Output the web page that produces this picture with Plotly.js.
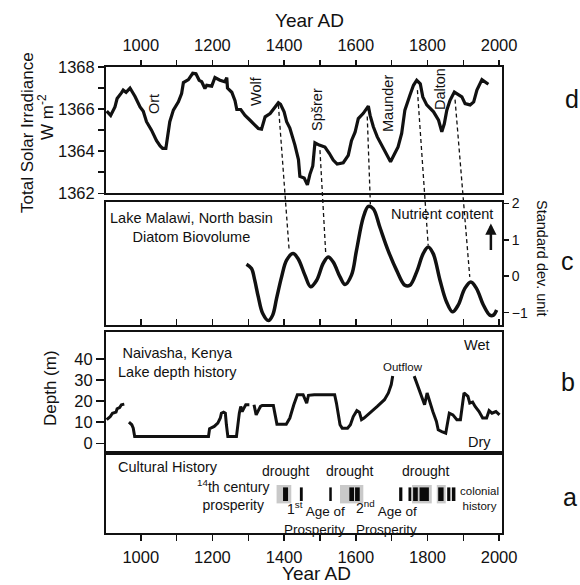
<!DOCTYPE html>
<html><head><meta charset="utf-8">
<script src="https://cdn.plot.ly/plotly-3.0.1.min.js"></script>
<style>html,body{margin:0;padding:0;background:#fff}#chart{width:580px;height:585px}</style>
</head><body><div id="chart"></div>
<script>
// ---- Panel d: Total Solar Irradiance ----
const tsiYear = [905,916,928,934,946,951,959,970,984,998,1007,1016,1030,1044,1054,1061,1070,1077,1081,1091,1105,1114,1119,1133,1145,1154,1163,1170,1179,1184,1198,1207,1221,1235,1240,1242,1254,1263,1268,1279,1291,1305,1319,1328,1337,1342,1347,1361,1375,1384,1390,1400,1407,1416,1430,1440,1444,1456,1465,1472,1480,1486,1498,1514,1526,1537,1548,1565,1579,1588,1598,1607,1621,1635,1640,1649,1660,1672,1686,1697,1709,1718,1728,1737,1751,1761,1770,1780,1787,1798,1817,1831,1840,1847,1854,1863,1875,1887,1896,1905,1919,1929,1938,1952,1961,1970];
const tsiVal = [1365.9,1365.7,1366.1,1366.5,1366.77,1366.9,1366.8,1367.0,1366.6,1366.1,1365.9,1365.4,1365.0,1364.5,1364.25,1364.13,1364.13,1364.85,1365.4,1365.95,1366.35,1366.74,1367.26,1367.4,1367.7,1367.68,1367.37,1367.3,1366.98,1367.13,1367.09,1367.5,1367.37,1367.3,1367.5,1367.0,1366.8,1366.4,1365.98,1365.98,1365.7,1365.47,1365.24,1365.08,1365.05,1365.4,1365.63,1365.79,1366.1,1366.3,1366.23,1365.87,1365.4,1365.1,1364.3,1363.6,1362.8,1362.72,1362.4,1362.9,1363.3,1364.4,1364.29,1364.2,1363.9,1363.58,1363.39,1363.45,1363.8,1364.5,1364.9,1365.55,1365.8,1366.14,1365.7,1365.16,1364.68,1364.29,1363.8,1363.5,1363.9,1364.2,1364.84,1365.95,1366.66,1367.13,1367.37,1367.2,1366.58,1366.2,1365.87,1365.47,1364.92,1365.3,1365.95,1366.42,1366.81,1366.66,1366.58,1366.26,1366.2,1366.34,1366.9,1367.4,1367.29,1367.18];
const minimaNames = ["Ort","Wolf","Spšrer","Maunder","Dalton"];

// ---- Panel c: Lake Malawi diatom biovolume (standard dev. units) ----
const diatomYear = [1295,1309,1318,1328,1340,1356,1368,1379,1393,1407,1425,1439,1458,1474,1491,1509,1523,1537,1556,1570,1588,1602,1621,1635,1649,1667,1690,1714,1737,1751,1770,1788,1802,1816,1835,1853,1870,1886,1904,1921,1937,1956,1974,1984,1993];
const diatomVal = [0.33,0.21,-0.11,-0.57,-1.02,-1.22,-1.07,-0.61,-0.02,0.44,0.62,0.48,0.03,-0.29,-0.11,0.35,0.53,0.39,-0.02,-0.23,0.03,0.71,1.62,1.92,1.85,1.35,0.71,0.16,-0.25,-0.25,0.12,0.62,0.8,0.62,-0.11,-0.70,-0.98,-0.79,-0.34,-0.16,-0.34,-0.79,-1.07,-1.07,-0.93];

// ---- Connectors: TSI maxima (panel d) to diatom maxima (panel c) ----
const linkYearD = [1384,1500,1632,1772,1877];
const linkTsi   = [1366.2,1364.05,1365.65,1366.9,1366.45];
const linkYearC = [1414,1516,1641,1802,1918];
const linkSd    = [0.72,0.65,1.9,0.85,-0.02];

// ---- Panel b: Lake Naivasha depth (m), null = gap ----
const depthYear = [905,915,921,931,934,941,946,954,null,967,975,979,983,1189,1192,1205,1215,1222,1225,1231,1236,1239,1243,1267,1270,1275,1279,1283,1288,1293,1303,null,1316,1322,1329,1334,1339,1370,1375,1380,1406,1416,1427,1437,1453,1463,1468,1484,1541,1546,1556,1562,1577,1585,1593,1603,1610,1616,1623,1639,1660,1680,1691,1699,1703,null,1763,1773,1784,1792,1799,1806,1815,1825,1830,1840,1851,1856,1861,1871,1882,1892,1897,1902,1913,1918,1926,1933,1944,1954,1965,1972,1980,1991,2001];
const depthVal = [11.2,12.7,14.3,14.8,16.4,17,18.3,18.6,null,10,8.8,7.2,3.2,3.2,6.9,8,9.6,12,14.3,14.8,14.3,8.8,3.2,3.2,8.8,14.3,17.5,15.1,16.7,18.3,18.3,null,18.3,13.5,15.9,17.5,18,18,13.5,9.1,9.1,12,18.3,23.1,23.1,19.1,22.8,23.1,23.1,19.1,8.8,7.2,7.2,8.8,12.7,15.5,14.8,11.2,12,14.3,17.5,20.7,23.9,27.9,31.9,null,31.9,27.1,22.3,18.3,23.9,19.9,15.1,10.4,6.4,5.6,4.8,9.6,14.3,13.5,11.2,11.2,18.3,23.9,22.3,19.1,19.6,17.5,15.1,12,12,15.5,14.3,15.1,13.5];

// ---- Panel a: cultural history ----
const droughtStart = [1379,1556,1757,1826];
const droughtEnd   = [1420,1621,1812,1851];
const eventStart = [1397,1444,1526,1582,1598,1721,1747,1760,1778,1830,1855,1868];
const eventEnd   = [1411,1452,1533,1595,1611,1730,1755,1773,1804,1845,1864,1878];

// ---- axis ticks ----
const dTicks = [1362,1364,1366,1368];
const cTicks = [-1,0,1,2];
const bTicks = [0,10,20,30,40];

const FONT = "Liberation Sans, Arial, Helvetica, sans-serif";
const INK = "#111";
const XR = [903, 2008];
const domA = [0, 0.1717], domB = [0.1717, 0.432], domC = [0.4464, 0.7097], domD = [0.729, 1];
const rangeB = [-4.6, 53], rangeC = [-1.34, 2.03], rangeD = [1362, 1368];

function mid(a,b){ return a.map((v,i)=>(v+b[i])/2); }
function dur(a,b){ return a.map((v,i)=>b[i]-v); }
function toPaper(dom, rng, v){ return dom[0] + (v-rng[0])/(rng[1]-rng[0])*(dom[1]-dom[0]); }

const traces = [
  {x: tsiYear, y: tsiVal, xaxis:'x4', yaxis:'y4', type:'scatter', mode:'lines',
   line:{color:INK, width:3.2}, hoverinfo:'skip'},
  {x: diatomYear, y: diatomVal, xaxis:'x3', yaxis:'y3', type:'scatter', mode:'lines',
   line:{color:INK, width:3.5, shape:'spline', smoothing:1}, hoverinfo:'skip'},
  {x: depthYear, y: depthVal, xaxis:'x2', yaxis:'y2', type:'scatter', mode:'lines',
   line:{color:INK, width:3}, connectgaps:false, hoverinfo:'skip'},
  {x: mid(droughtStart, droughtEnd), y: droughtStart.map(()=>0.23), base: 0.37,
   width: dur(droughtStart, droughtEnd), xaxis:'x', yaxis:'y', type:'bar',
   marker:{color:'#c9c9c9', line:{width:0}}, hoverinfo:'skip'},
  {x: mid(eventStart, eventEnd), y: eventStart.map(()=>0.17), base: 0.40,
   width: dur(eventStart, eventEnd), xaxis:'x', yaxis:'y', type:'bar',
   marker:{color:'#0a0a0a', line:{width:0}}, hoverinfo:'skip'}
];

const boxLine = {showline:true, mirror:true, linecolor:INK, linewidth:2, showgrid:false, zeroline:false};
const tickFont = {family:FONT, size:16.5, color:INK};

const layout = {
  width:580, height:585,
  margin:{l:106, r:78, t:67, b:52},
  paper_bgcolor:'#fff', plot_bgcolor:'#fff',
  showlegend:false, barmode:'overlay',
  font:{family:FONT, color:INK},
  xaxis: Object.assign({}, boxLine, {domain:[0,1], anchor:'y', range:XR,
    tickmode:'linear', tick0:1000, dtick:200, ticks:'outside', ticklen:6, tickwidth:1.5, tickcolor:INK,
    minor:{tick0:1000, dtick:100, ticks:'outside', ticklen:6, tickwidth:1.5, tickcolor:INK},
    tickfont:tickFont, ticklabelstandoff:2}),
  yaxis: Object.assign({}, boxLine, {domain:domA, anchor:'x', range:[0,1], showticklabels:false, ticks:''}),
  xaxis2: Object.assign({}, boxLine, {domain:[0,1], anchor:'y2', range:XR, showticklabels:false, ticks:''}),
  yaxis2: Object.assign({}, boxLine, {domain:domB, anchor:'x2', range:rangeB,
    tickmode:'array', tickvals:bTicks, ticks:'outside', ticklen:8, tickwidth:1.5, tickcolor:INK, tickfont:tickFont}),
  xaxis3: Object.assign({}, boxLine, {domain:[0,1], anchor:'y3', range:XR, showticklabels:false,
    tickmode:'linear', tick0:1000, dtick:100, ticks:'inside', ticklen:6, tickwidth:1.5, tickcolor:INK}),
  yaxis3: Object.assign({}, boxLine, {domain:domC, anchor:'x3', range:rangeC, side:'right',
    tickmode:'array', tickvals:cTicks, ticks:'outside', ticklen:5, tickwidth:1.5, tickcolor:INK,
    tickfont:{family:FONT, size:14, color:INK}}),
  xaxis4: Object.assign({}, boxLine, {domain:[0,1], anchor:'y4', range:XR, side:'top',
    tickmode:'linear', tick0:1000, dtick:200, ticks:'outside', ticklen:5, tickwidth:1.5, tickcolor:INK,
    minor:{tick0:1000, dtick:100, ticks:'outside', ticklen:5, tickwidth:1.5, tickcolor:INK},
    tickfont:tickFont, ticklabelshift:-7.5, ticklabelstandoff:2}),
  yaxis4: Object.assign({}, boxLine, {domain:domD, anchor:'x4', range:rangeD,
    tickmode:'array', tickvals:dTicks, ticks:'outside', ticklen:6, tickwidth:1.5, tickcolor:INK,
    minor:{tickmode:'linear', tick0:1362, dtick:1, ticks:'outside', ticklen:6, tickwidth:1.5, tickcolor:INK},
    tickfont:tickFont}),
  shapes: [],
  annotations: []
};

// dashed connectors
linkYearD.forEach((yd,i)=>{
  layout.shapes.push({type:'line', xref:'x4', yref:'paper',
    x0: yd, y0: toPaper(domD, rangeD, linkTsi[i]),
    x1: linkYearC[i], y1: toPaper(domC, rangeC, linkSd[i]),
    line:{color:INK, width:1.3, dash:'4px,3px'}});
});

// pixel helpers for label placement
const PX = X => (X-106)/396;
const PY = Y => (533-Y)/466;
function lab(text, X, Y, size, opts){
  layout.annotations.push(Object.assign({text:text, xref:'paper', yref:'paper', x:PX(X), y:PY(Y),
    xanchor:'center', yanchor:'middle', showarrow:false,
    font:{family:FONT, size:size, color:INK}}, opts||{}));
}

// titles
lab('Year AD', 309, 20, 19);
lab('Year AD', 316, 573, 19);
lab('Total Solar Irradiance', 27, 133, 17, {textangle:-90});
lab('W m<sup>-2</sup>', 46, 117, 17, {textangle:-90});
lab('Depth (m)', 50, 388, 17, {textangle:-90});
lab('Standard dev. unit', 542, 258, 14.5, {textangle:90});
// panel letters
lab('d', 572, 99, 25); lab('c', 567, 261, 25); lab('b', 568, 382, 25); lab('a', 570, 497, 25);
// solar minima
const minPos = [[154,104],[256,91],[317,110],[388,104],[440,89]];
minimaNames.forEach((n,i)=>lab(n, minPos[i][0], minPos[i][1], 14.5, {textangle:-90}));
// panel c
lab('Lake Malawi, North basin<br>Diatom Biovolume', 191, 227, 14.5);
lab('Nutrient content', 442, 214, 14.5);
layout.annotations.push({xref:'x3', yref:'y3', x:1977, y:1.45, ax:1977, ay:0.68, axref:'x3', ayref:'y3',
  text:'', showarrow:true, arrowhead:2, arrowsize:0.9, arrowwidth:2.5, arrowcolor:INK});
// panel b
lab('Naivasha, Kenya<br>Lake depth history', 177, 362, 14.5);
lab('Outflow', 403, 367, 11.5);
lab('Wet', 477, 345, 14.5);
lab('Dry', 479, 442, 14.5);
// panel a
lab('Cultural History', 168, 467, 14.5);
lab('drought', 286, 471, 14); lab('drought', 350, 471, 14); lab('drought', 426, 471, 14);
lab('<sup>14</sup>th century<br>prosperity', 233, 495, 14);
lab('1<sup>st</sup>', 295, 508, 14);
lab('Age of<br>Prosperity', 347, 520, 13.5, {xanchor:'right', align:'right'});
lab('2<sup>nd</sup>', 365, 507, 14);
lab('Age of<br>Prosperity', 419, 520, 13.5, {xanchor:'right', align:'right'});
lab('colonial<br>history', 479, 498, 11.5);

Plotly.newPlot('chart', traces, layout, {displayModeBar:false, staticPlot:true});
</script></body></html>
